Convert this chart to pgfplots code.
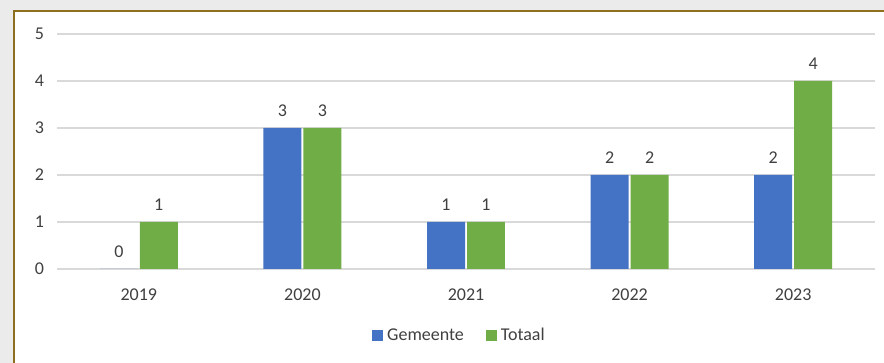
\documentclass[border=0pt]{standalone}
\usepackage{pgfplots}
\pgfplotsset{compat=1.18}
\usepackage{fontspec}
\setmainfont{Carlito}
\definecolor{gblue}{HTML}{4472C4}
\definecolor{ggreen}{HTML}{70AD47}
\definecolor{txt}{HTML}{404040}
\definecolor{gridc}{HTML}{D9D9D9}
\definecolor{framec}{RGB}{140,112,32}
\begin{document}
\begin{tikzpicture}[x=1pt,y=1pt]
\useasboundingbox (0,0) rectangle (884,363);
\clip (0,0) rectangle (884,363);
\fill[black!8] (0,0) rectangle (884,363);
\draw[framec, line width=2pt, fill=white] (14,-20) rectangle (910,352);
\begin{axis}[
  at={(57pt,94pt)}, anchor=south west, scale only axis,
  width=818pt, height=235pt,
  /pgf/number format/assume math mode=true,
  ybar=2pt, bar width=0.232,
  ymin=0, ymax=5, xmin=-0.5, xmax=4.5,
  xtick={0,1,2,3,4}, xticklabels={2019,2020,2021,2022,2023},
  ytick={0,1,2,3,4,5},
  ymajorgrids, grid style={gridc, line width=1.2pt},
  axis line style={draw=none}, major tick style={draw=none},
  tick label style={font=\fontsize{18}{20}\selectfont, text=txt},
  yticklabel style={xshift=-9.5pt},
  xticklabel style={yshift=-12pt},
  nodes near coords,
  every node near coord/.append style={font=\fontsize{18}{20}\selectfont, text=txt, yshift=8pt},
  legend style={at={(axis description cs:0.492,-0.281)}, anchor=center, draw=none, fill=none,
    font=\fontsize{18}{20}\selectfont, text=txt, legend columns=2,
    /tikz/every even column/.append style={column sep=20pt},
    nodes={inner sep=2pt}},
  legend image code/.code={\fill[#1] (0pt,-5.5pt) rectangle (11pt,5.5pt);},
]
\addplot[fill=gblue, draw=none] coordinates {(0,0) (1,3) (2,1) (3,2) (4,2)};
\addplot[fill=ggreen, draw=none] coordinates {(0,1) (1,3) (2,1) (3,2) (4,4)};
\legend{\hspace{2pt}Gemeente, \hspace{2pt}Totaal}
\end{axis}
\end{tikzpicture}
\end{document}
